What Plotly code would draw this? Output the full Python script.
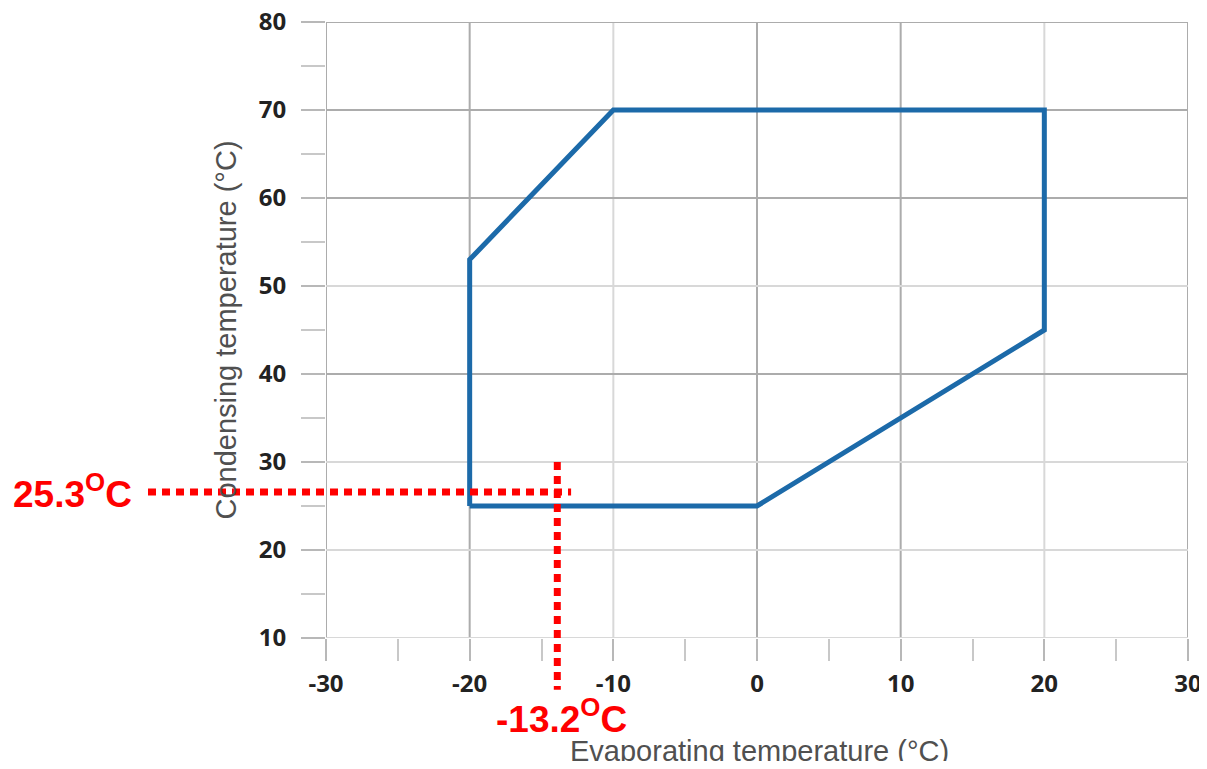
import plotly.graph_objects as go

# Operating envelope (evaporating temp, condensing temp)
evap = [-20, -20, -10, 20, 20, 0, -20]
cond = [25, 53, 70, 70, 45, 25, 25]

# Marked operating point (as drawn) and its labels
point_x = -13.9
point_y = 26.6
label_x = "-13.2<sup>O</sup>C"
label_y = "25.3<sup>O</sup>C"

x_ticks = [-30, -20, -10, 0, 10, 20, 30]
x_ticktext = ["-30", "-20", "-10", "0", "10", "20", "30"]
y_ticks = [10, 20, 30, 40, 50, 60, 70, 80]

x_title = "Evaporating temperature (°C)"
y_title = "Condensing temperature (°C)"

# grid lines drawn darker in the source image
dark_x = [-30, -20, 0, 10, 30]
dark_y = [40, 60, 70, 80]

XR = [-30, 30]
YR = [10, 80]

fig = go.Figure()
fig.add_trace(go.Scatter(x=evap, y=cond, mode="lines",
                         line=dict(color="#1c6aa9", width=5),
                         hoverinfo="skip", showlegend=False))

tickfont = dict(family="Open Sans", size=24, color="#222222", weight="bold")
titlefont = dict(family="Liberation Sans", size=29, color="#505050")
light = "#d8d8d8"
dark = "#acacac"

fig.update_xaxes(range=XR, tickvals=x_ticks, ticktext=x_ticktext, showgrid=False,
                 automargin=False, ticklabeloverflow="allow",
                 zeroline=False, showline=False, ticks="outside", ticklen=22, tickcolor="#b8b8b8",
                 tickwidth=1.5, tickfont=tickfont, ticklabelstandoff=2,
                 minor=dict(tickvals=[-25, -15, -5, 5, 15, 25], ticks="outside", ticklen=22,
                            tickcolor="#c8c8c8", tickwidth=1.5, showgrid=False))
fig.update_yaxes(range=YR, tickvals=y_ticks, showgrid=False,
                 zeroline=False, showline=False, ticks="outside", ticklen=24, tickcolor="#b8b8b8",
                 tickwidth=1.5, tickfont=tickfont, ticklabelstandoff=10, automargin=False,
                 ticklabeloverflow="allow",
                 minor=dict(tickvals=[15, 25, 35, 45, 55, 65, 75], ticks="outside", ticklen=24,
                            tickcolor="#c8c8c8", tickwidth=1.5, showgrid=False),
                 title=dict(text=y_title, font=titlefont, standoff=13))

# x axis title placed as a paper annotation
fig.add_annotation(text=x_title, xref="paper", yref="paper", x=0.503, y=-0.183,
                   xanchor="center", yanchor="middle", showarrow=False, font=titlefont)

# grid lines, each with the shade seen in the source
for v in x_ticks:
    fig.add_shape(type="line", xref="x", yref="y domain", x0=v, x1=v, y0=0, y1=1,
                  line=dict(color=dark if v in dark_x else light, width=2), layer="below")
for v in y_ticks:
    fig.add_shape(type="line", xref="x domain", yref="y", x0=0, x1=1, y0=v, y1=v,
                  line=dict(color=dark if v in dark_y else light, width=2), layer="below")

# red dotted guide lines (allowed to run outside the plot area)
def xdom(v):
    return (v - XR[0]) / (XR[1] - XR[0])

def ydom(v):
    return (v - YR[0]) / (YR[1] - YR[0])

red = "#ff0000"
dots = "8px,6px"
fig.add_shape(type="line", xref="x domain", yref="y", x0=-0.2065, x1=xdom(point_x) + 0.016,
              y0=point_y, y1=point_y, line=dict(color=red, width=7, dash=dots), layer="above")
fig.add_shape(type="line", xref="x", yref="y domain", x0=point_x, x1=point_x,
              y0=ydom(30), y1=-0.084, line=dict(color=red, width=7, dash=dots), layer="above")

redfont = dict(family="Liberation Sans", size=37, color=red, weight="bold")
fig.add_annotation(text=label_y, xref="paper", yref="y", x=-0.366, y=point_y,
                   xanchor="left", yanchor="middle", showarrow=False, font=redfont)
fig.add_annotation(text=label_x, xref="x", yref="paper", x=point_x + 0.3, y=-0.127,
                   xanchor="center", yanchor="middle", showarrow=False, font=redfont)

fig.update_layout(width=1199, height=753, margin=dict(l=318, r=19, t=14, b=123),
                  plot_bgcolor="white", paper_bgcolor="white")

fig.write_html("out.html", post_script="document.body.style.overflow='hidden';")
